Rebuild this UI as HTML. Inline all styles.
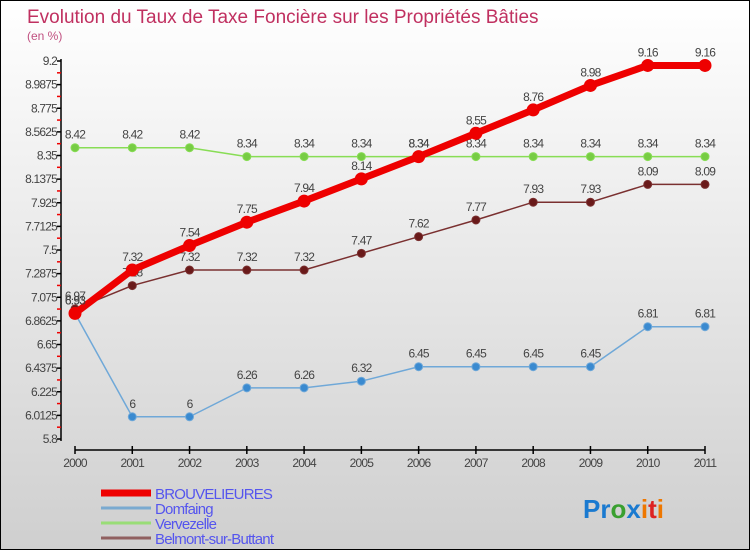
<!DOCTYPE html>
<html><head><meta charset="utf-8"><style>
body{margin:0}
#c{width:750px;height:550px;position:relative;box-sizing:border-box;border:1px solid #000;background:linear-gradient(#ffffff,#cfcfcf);font-family:"Liberation Sans",sans-serif;overflow:hidden}
</style></head><body>
<div id="c">
<svg id="s" width="748" height="548" style="position:absolute;left:0;top:0"></svg>
</div>
<script>
const years=["2000","2001","2002","2003","2004","2005","2006","2007","2008","2009","2010","2011"];
const brouv=[6.93,7.32,7.54,7.75,7.94,8.14,8.34,8.55,8.76,8.98,9.16,9.16];
const domf=[6.93,6,6,6.26,6.26,6.32,6.45,6.45,6.45,6.45,6.81,6.81];
const verv=[8.42,8.42,8.42,8.34,8.34,8.34,8.34,8.34,8.34,8.34,8.34,8.34];
const belm=[6.97,7.18,7.32,7.32,7.32,7.47,7.62,7.77,7.93,7.93,8.09,8.09];
const yTicks=["5.8","6.0125","6.225","6.4375","6.65","6.8625","7.075","7.2875","7.5","7.7125","7.925","8.1375","8.35","8.5625","8.775","8.9875","9.2"];
const yMin=5.8,yMax=9.2;
const ox=-1,oy=-1;
const X=i=>75+i*(630/11)+ox, Y=v=>439-(v-yMin)/(yMax-yMin)*378+oy;
const s=document.getElementById('s');const NS="http://www.w3.org/2000/svg";
function el(t,a,txt){const e=document.createElementNS(NS,t);for(const k in a)e.setAttribute(k,a[k]);if(txt!==undefined)e.textContent=txt;s.appendChild(e);return e;}
let e;
e=el('text',{x:26,y:22,'font-size':19,fill:'#c03060'},'Evolution du Taux de Taxe Foncière sur les Propriétés Bâties');


e=el('text',{x:26,y:39,'font-size':12,fill:'#c05080'},'(en %)');


e=el('line',{x1:61+ox,y1:58,x2:61+ox,y2:440,stroke:'#000','stroke-width':1.5});


e=el('line',{x1:75+ox,y1:450+oy,x2:705+ox,y2:450+oy,stroke:'#000','stroke-width':1.5});


yTicks.forEach((t,i)=>{const v=yMin+i*(yMax-yMin)/16;const y=Y(v);
 e=el('line',{x1:57+ox,y1:y,x2:61+ox,y2:y,stroke:'#000','stroke-width':1.5});
 
 
 e=el('text',{x:57+ox,y:y+4,'font-size':12,fill:'#444','text-anchor':'end','letter-spacing':'-0.8'},t);
 
 
 if(i<16){const ym=Y(v+(yMax-yMin)/32);
 e=el('line',{x1:57+ox,y1:ym,x2:61+ox,y2:ym,stroke:'#e00','stroke-width':1.5});
 
 }
});
years.forEach((t,i)=>{const x=X(i);
 e=el('line',{x1:x,y1:446+oy,x2:x,y2:454+oy,stroke:'#000','stroke-width':1.5});
 
 
 e=el('text',{x:x,y:466,'font-size':12,fill:'#444','text-anchor':'middle','letter-spacing':'-0.8'},t);
 
 
});
function series(d,col,w,r,name,dot){
 e=el('polyline',{points:d.map((v,i)=>X(i)+','+Y(v)).join(' '),fill:'none',stroke:col,'stroke-width':w,'stroke-linejoin':'round'});
 
 
 d.forEach((v,i)=>{e=el('circle',{cx:X(i),cy:Y(v),r:r,fill:dot,stroke:col,'stroke-width':1});
  
  
  e=el('text',{x:X(i),y:Y(v)-9,'font-size':12,fill:'#444','text-anchor':'middle','letter-spacing':'-0.8'},String(v));
  
  });
}
series(verv,'#88dd55',1.5,4,'vervezelle','#77cc44');
series(domf,'#6fa8d8',1.5,4,'domfaing','#3a8ad0');
series(belm,'#7a3030',1.5,4,'belmont','#6a1a1a');
series(brouv,'#ee0000',7,6,'brouvelieures','#ee0000');
const leg=[["BROUVELIEURES","#ee0000",7],["Domfaing","#7aaad0",3],["Vervezelle","#99dd77",3],["Belmont-sur-Buttant","#906060",3]];
leg.forEach((l,i)=>{const y=492+i*15;
 e=el('line',{x1:100,y1:y,x2:150,y2:y,stroke:l[1],'stroke-width':l[2]});
 
 
 e=el('text',{x:154,y:y+6,'font-size':15,fill:'#5555ee','letter-spacing':'-0.8'},l[0]);
 
 
});
e=el('text',{x:582,y:517,'font-size':26,'font-weight':'bold'});


[["Pr","#1a7ad0"],["o","#3aa030"],["x","#1a7ad0"],["i","#ee7700"],["t","#dd2222"],["i","#ee7700"]].forEach(p=>{const t=document.createElementNS(NS,'tspan');t.setAttribute('fill',p[1]);t.textContent=p[0];e.appendChild(t);});
</script>
</body></html>
